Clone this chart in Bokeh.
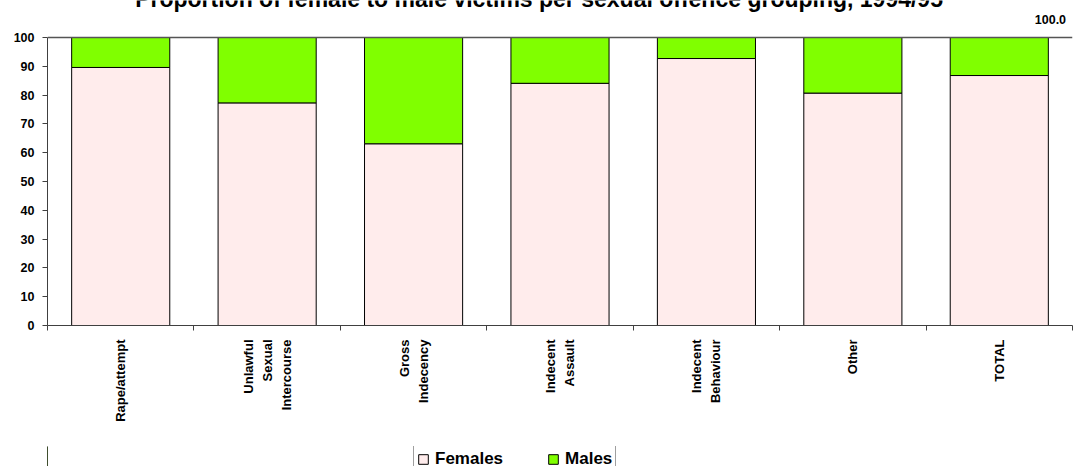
import math
from bokeh.plotting import figure
from bokeh.layouts import column
from bokeh.models import (ColumnDataSource, Range1d, FixedTicker, Legend, LegendItem, Label, Span)
from bokeh.embed import file_html
from bokeh.resources import INLINE

# Share of female and male victims (%) per sexual offence grouping, 1994/95
categories = ["Rape/attempt", "Unlawful\nSexual\nIntercourse", "Gross\nIndecency",
              "Indecent\nAssault", "Indecent\nBehaviour", "Other", "TOTAL"]
females = [89.6, 77.3, 63.1, 84.1, 92.7, 80.7, 86.8]
males = [10.4, 22.7, 36.9, 15.9, 7.3, 19.3, 13.2]
y_ticks = [0, 10, 20, 30, 40, 50, 60, 70, 80, 90, 100]
series_names = ["Females", "Males"]

FONT = "Liberation Sans"
FEMALE_COLOR = "#FFECEC"
MALE_COLOR = "#80FF00"
AXIS_COLOR = "#404040"

centers = [i + 0.5 for i in range(len(categories))]
source = ColumnDataSource(dict(x=centers, females=females, males=males))

# chart: the frame reaches the top of the page so the heading can sit above the 100 line;
# the bottom border leaves room for the rotated category names
p = figure(width=1074, height=446,
           x_range=Range1d(0, len(categories)), y_range=Range1d(0, 112.85),
           output_backend="svg", toolbar_location=None,
           min_border_left=47, min_border_right=2, min_border_top=0, min_border_bottom=121)
p.background_fill_color = "white"
p.border_fill_color = "white"
p.outline_line_color = None
p.xgrid.visible = False
p.ygrid.visible = False

renderers = p.vbar_stack(["females", "males"], x="x", width=0.67, source=source,
                         fill_color=[FEMALE_COLOR, MALE_COLOR],
                         line_color="black", line_width=1)

# top edge of the plot area
p.add_layout(Span(location=100, dimension="width", line_color="#555555", line_width=1.5))

# y axis
yax = p.yaxis[0]
yax.ticker = FixedTicker(ticks=y_ticks)
yax.bounds = (0, 100)
yax.minor_tick_line_color = None
yax.major_tick_out = 5
yax.major_tick_in = 0
yax.major_tick_line_color = AXIS_COLOR
yax.axis_line_color = AXIS_COLOR
yax.major_label_standoff = 8
yax.major_label_text_font = FONT
yax.major_label_text_font_style = "bold"
yax.major_label_text_font_size = "12.5px"
yax.major_label_text_color = "black"

# x axis: category names at bar centres, tick marks on category boundaries
xax = p.xaxis[0]
xax.ticker = FixedTicker(ticks=centers, minor_ticks=list(range(len(categories) + 1)))
xax.major_label_overrides = {c: name for c, name in zip(centers, categories)}
xax.major_tick_line_color = None
xax.minor_tick_out = 5
xax.minor_tick_in = 0
xax.minor_tick_line_color = AXIS_COLOR
xax.axis_line_color = AXIS_COLOR
xax.major_label_orientation = math.pi / 2
xax.major_label_standoff = 8
xax.major_label_text_font = FONT
xax.major_label_text_font_style = "bold"
xax.major_label_text_font_size = "13px"
xax.major_label_text_line_height = 1.27
xax.major_label_text_align = "center"
xax.major_label_text_color = "black"

# heading, partly above the page edge
title = Label(x=3.357, y=113.2, text="Proportion of female to male victims per sexual offence grouping, 1994/95",
              text_align="center", text_baseline="alphabetic",
              text_font=FONT, text_font_style="bold", text_font_size="23px",
              text_color="black")
p.add_layout(title)

total_label = Label(x=6.956, y=106.08, text="%.1f" % (females[-1] + males[-1]),
                    text_align="right", text_baseline="middle",
                    text_font=FONT, text_font_style="bold", text_font_size="12.5px",
                    text_color="black")
p.add_layout(total_label)

# legend strip underneath the chart (same side borders as the chart)
key = figure(width=1074, height=27, x_range=Range1d(0, 1), y_range=Range1d(0, 1),
             x_axis_type=None, y_axis_type=None,
             output_backend="svg", toolbar_location=None,
             min_border_left=47, min_border_right=2, min_border_top=0, min_border_bottom=0)
key.outline_line_color = None
key.border_fill_color = "white"
key.background_fill_color = "white"
key.xgrid.visible = False
key.ygrid.visible = False
# swatch renderers sit outside the strip's range, so only their legend entries show
swatches = [key.vbar(x=[-10], top=[1], width=0.5, fill_color=c, line_color="black", line_width=1)
            for c in (FEMALE_COLOR, MALE_COLOR)]

legend = Legend(items=[LegendItem(label=name, renderers=[r]) for name, r in zip(series_names, swatches)],
                orientation="horizontal", location=(366, 0),
                glyph_width=12, glyph_height=12, label_standoff=6, spacing=44,
                padding=3, margin=0, label_height=20,
                label_text_font=FONT, label_text_font_style="bold",
                label_text_font_size="17px", label_text_color="black",
                border_line_color=AXIS_COLOR, border_line_width=1,
                background_fill_color="white")
key.add_layout(legend)

layout = column(p, key, spacing=0)
open("out.html", "w").write(file_html(layout, INLINE))
